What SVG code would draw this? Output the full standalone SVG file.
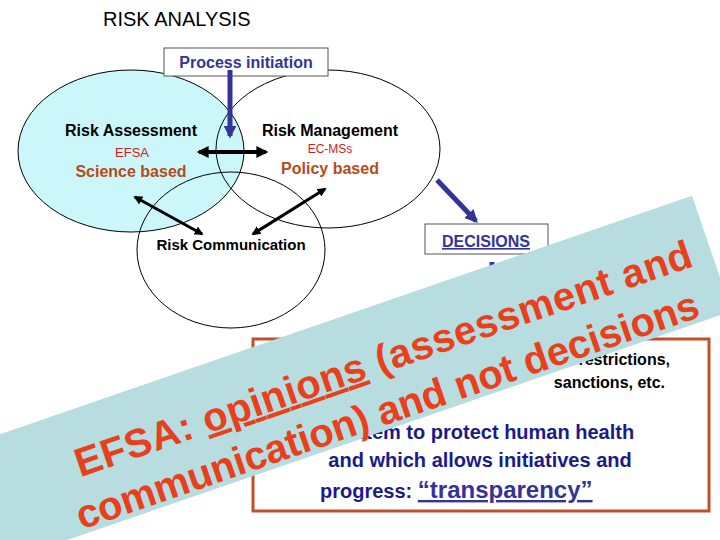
<svg xmlns="http://www.w3.org/2000/svg" width="720" height="540" viewBox="0 0 720 540">
<defs>
<style>
text{font-family:"Liberation Sans",Arial,sans-serif}
.b{font-weight:bold}
.ell{fill:none;stroke:#000;stroke-width:1}
.blu{fill:#1a1a8c}
</style>
<marker id="ak" viewBox="0 0 10 10" refX="8" refY="5" markerWidth="3" markerHeight="3" orient="auto-start-reverse"><path d="M0,0L10,5L0,10z" fill="#000"/></marker>
<marker id="ab" viewBox="0 0 10 10" refX="8" refY="5" markerWidth="2.6" markerHeight="2.6" orient="auto"><path d="M0,0L10,5L0,10z" fill="#333399"/></marker>
</defs>
<rect width="720" height="540" fill="#fff"/>
<text x="103" y="26" font-size="20">RISK ANALYSIS</text>
<g id="assessment">
<ellipse cx="131" cy="151" rx="113" ry="81" fill="#ccf7fa" stroke="#000"/>
</g>
<g id="communication"><ellipse class="ell" cx="231" cy="250" rx="94" ry="78"/></g>
<g id="management"><ellipse class="ell" cx="328" cy="149" rx="112" ry="79"/></g>
<g id="labels">
<text x="131" y="136" font-size="16" class="b" text-anchor="middle">Risk Assessment</text>
<text x="132" y="157" font-size="13" fill="#cc2222" text-anchor="middle">EFSA</text>
<text x="131" y="177" font-size="16" class="b" fill="#b84a1a" text-anchor="middle">Science based</text>
<text x="330" y="136" font-size="16" class="b" text-anchor="middle">Risk Management</text>
<text x="330" y="153" font-size="12" fill="#cc2222" text-anchor="middle">EC-MSs</text>
<text x="330" y="174" font-size="16" class="b" fill="#b84a1a" text-anchor="middle">Policy based</text>
<text x="231" y="250" font-size="15" class="b" text-anchor="middle">Risk Communication</text>
</g>
<g id="process">
<rect x="164" y="48" width="164" height="28" fill="#fff" stroke="#555"/>
<text x="246" y="68" font-size="16" class="b" fill="#333399" text-anchor="middle">Process initiation</text>
</g>
<g id="decisions">
<rect x="425" y="224" width="123" height="30" fill="#fff" stroke="#555"/>
<text x="486" y="247" font-size="16" class="b" fill="#333399" text-anchor="middle" text-decoration="underline">DECISIONS</text>
</g>
<g id="connectors">
<line x1="230" y1="70" x2="230" y2="136" stroke="#333399" stroke-width="5" marker-end="url(#ab)"/>
<line x1="199" y1="152" x2="266" y2="152" stroke="#000" stroke-width="4" marker-start="url(#ak)" marker-end="url(#ak)"/>
<line x1="135" y1="197" x2="202" y2="234" stroke="#000" stroke-width="3" marker-start="url(#ak)" marker-end="url(#ak)"/>
<line x1="325" y1="189" x2="253" y2="234" stroke="#000" stroke-width="3" marker-start="url(#ak)" marker-end="url(#ak)"/>
<line x1="437" y1="180" x2="476" y2="221" stroke="#333399" stroke-width="5" marker-end="url(#ab)"/>
<line x1="492" y1="262" x2="492" y2="290" stroke="#333399" stroke-width="5"/>
</g>
<g id="outcome">
<rect x="253" y="339" width="456" height="172" fill="#fff" stroke="#c0502a" stroke-width="3"/>
<text x="670" y="365" font-size="16" class="b" text-anchor="end">restrictions,</text>
<text x="665" y="388" font-size="16" class="b" text-anchor="end">sanctions, etc.</text>
<text x="483" y="439" font-size="20" class="b blu" text-anchor="middle">system to protect human health</text>
<text x="480" y="467" font-size="20" class="b blu" text-anchor="middle">and  which allows initiatives and</text>
<text x="320" y="498" font-size="20" class="b blu">progress: <tspan fill="#333399" font-size="24" text-decoration="underline">“transparency”</tspan></text>
</g>
<g id="banner" transform="translate(362,374) rotate(-19)">
<rect x="-450" y="-61" width="820" height="122" fill="#b7dde0"/>
<text x="-300" y="6" font-size="40" class="b" fill="#e8401c" textLength="650" lengthAdjust="spacing">EFSA: <tspan text-decoration="underline">opinions</tspan> (assessment and</text>
<text x="-316" y="56" font-size="40" class="b" fill="#e8401c" textLength="656" lengthAdjust="spacing">communication) and not decisions</text>
</g>
</svg>
